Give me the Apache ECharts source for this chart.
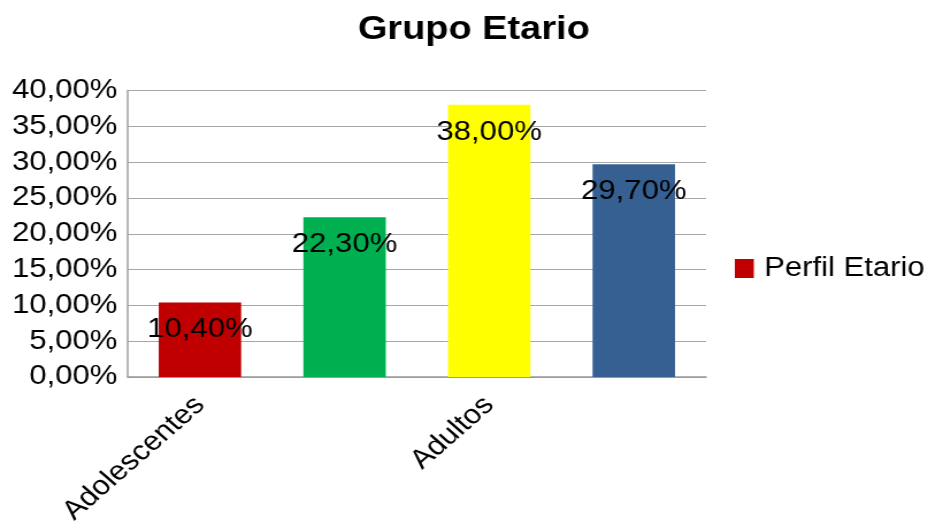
<!DOCTYPE html>
<html>
<head>
<meta charset="utf-8">
<script src="https://cdn.jsdelivr.net/npm/echarts@6/dist/echarts.min.js"></script>
<style>
  html, body { margin: 0; padding: 0; background: #ffffff; overflow: hidden; }
  #wrap { width: 928px; height: 530px; overflow: hidden; }
  /* the chart is laid out narrower and widened horizontally */
  #chart { width: 807px; height: 530px; transform: scaleX(1.15); transform-origin: 0 0; }
</style>
</head>
<body>
<div id="wrap"><div id="chart"></div></div>
<script>
const chartTitle = 'Grupo Etario';
const seriesName = 'Perfil Etario';
const categories = ['Adolescentes', 'Jóvenes', 'Adultos', 'Adultos Mayores'];
const values = [10.4, 22.3, 38.0, 29.7];
const barColors = ['#c00000', '#00b050', '#ffff00', '#376092'];
const yMin = 0, yMax = 40, yStep = 5;

const FONT = "'Liberation Sans', Arial, sans-serif";
const fmtPct = v => v.toFixed(2).replace('.', ',') + '%';

const chart = echarts.init(document.getElementById('chart'), null, { renderer: 'canvas' });
chart.setOption({
  animation: false,
  backgroundColor: '#ffffff',
  title: {
    text: chartTitle,
    left: 407,
    textAlign: 'center',
    top: 8,
    textStyle: { fontFamily: FONT, fontSize: 33, fontWeight: 'bold', color: '#000000' }
  },
  legend: {
    data: [seriesName],
    orient: 'vertical',
    left: 634,
    top: 250,
    itemWidth: 16.5,
    itemHeight: 19,
    icon: 'rect',
    textStyle: { fontFamily: FONT, fontSize: 27, color: '#000000', padding: [0, 0, 0, 4] }
  },
  grid: { left: 111, right: 193, top: 90.5, bottom: 153, containLabel: false },
  xAxis: {
    type: 'category',
    data: categories,
    axisLine: { show: true, lineStyle: { color: '#999999', width: 1.5 } },
    axisTick: { show: false },
    axisLabel: {
      interval: 1,
      rotate: 45,
      margin: 24,
      fontFamily: FONT,
      fontSize: 27,
      color: '#000000'
    }
  },
  yAxis: {
    type: 'value',
    min: yMin,
    max: yMax,
    interval: yStep,
    axisLine: { show: true, lineStyle: { color: '#a0a0a0', width: 1.5 } },
    axisTick: { show: false },
    splitLine: { show: true, lineStyle: { color: '#a6a6a6', width: 1 } },
    axisLabel: {
      margin: 9,
      fontFamily: FONT,
      fontSize: 27,
      color: '#000000',
      formatter: v => fmtPct(v)
    }
  },
  series: [{
    name: seriesName,
    type: 'bar',
    barCategoryGap: '43%',
    itemStyle: { color: barColors[0] },
    data: values.map((v, i) => ({ value: v, itemStyle: { color: barColors[i] } })),
    label: {
      show: true,
      position: 'insideTop',
      distance: 14,
      fontFamily: FONT,
      fontSize: 27,
      color: '#000000',
      formatter: p => fmtPct(p.value)
    }
  }]
});
</script>
</body>
</html>
